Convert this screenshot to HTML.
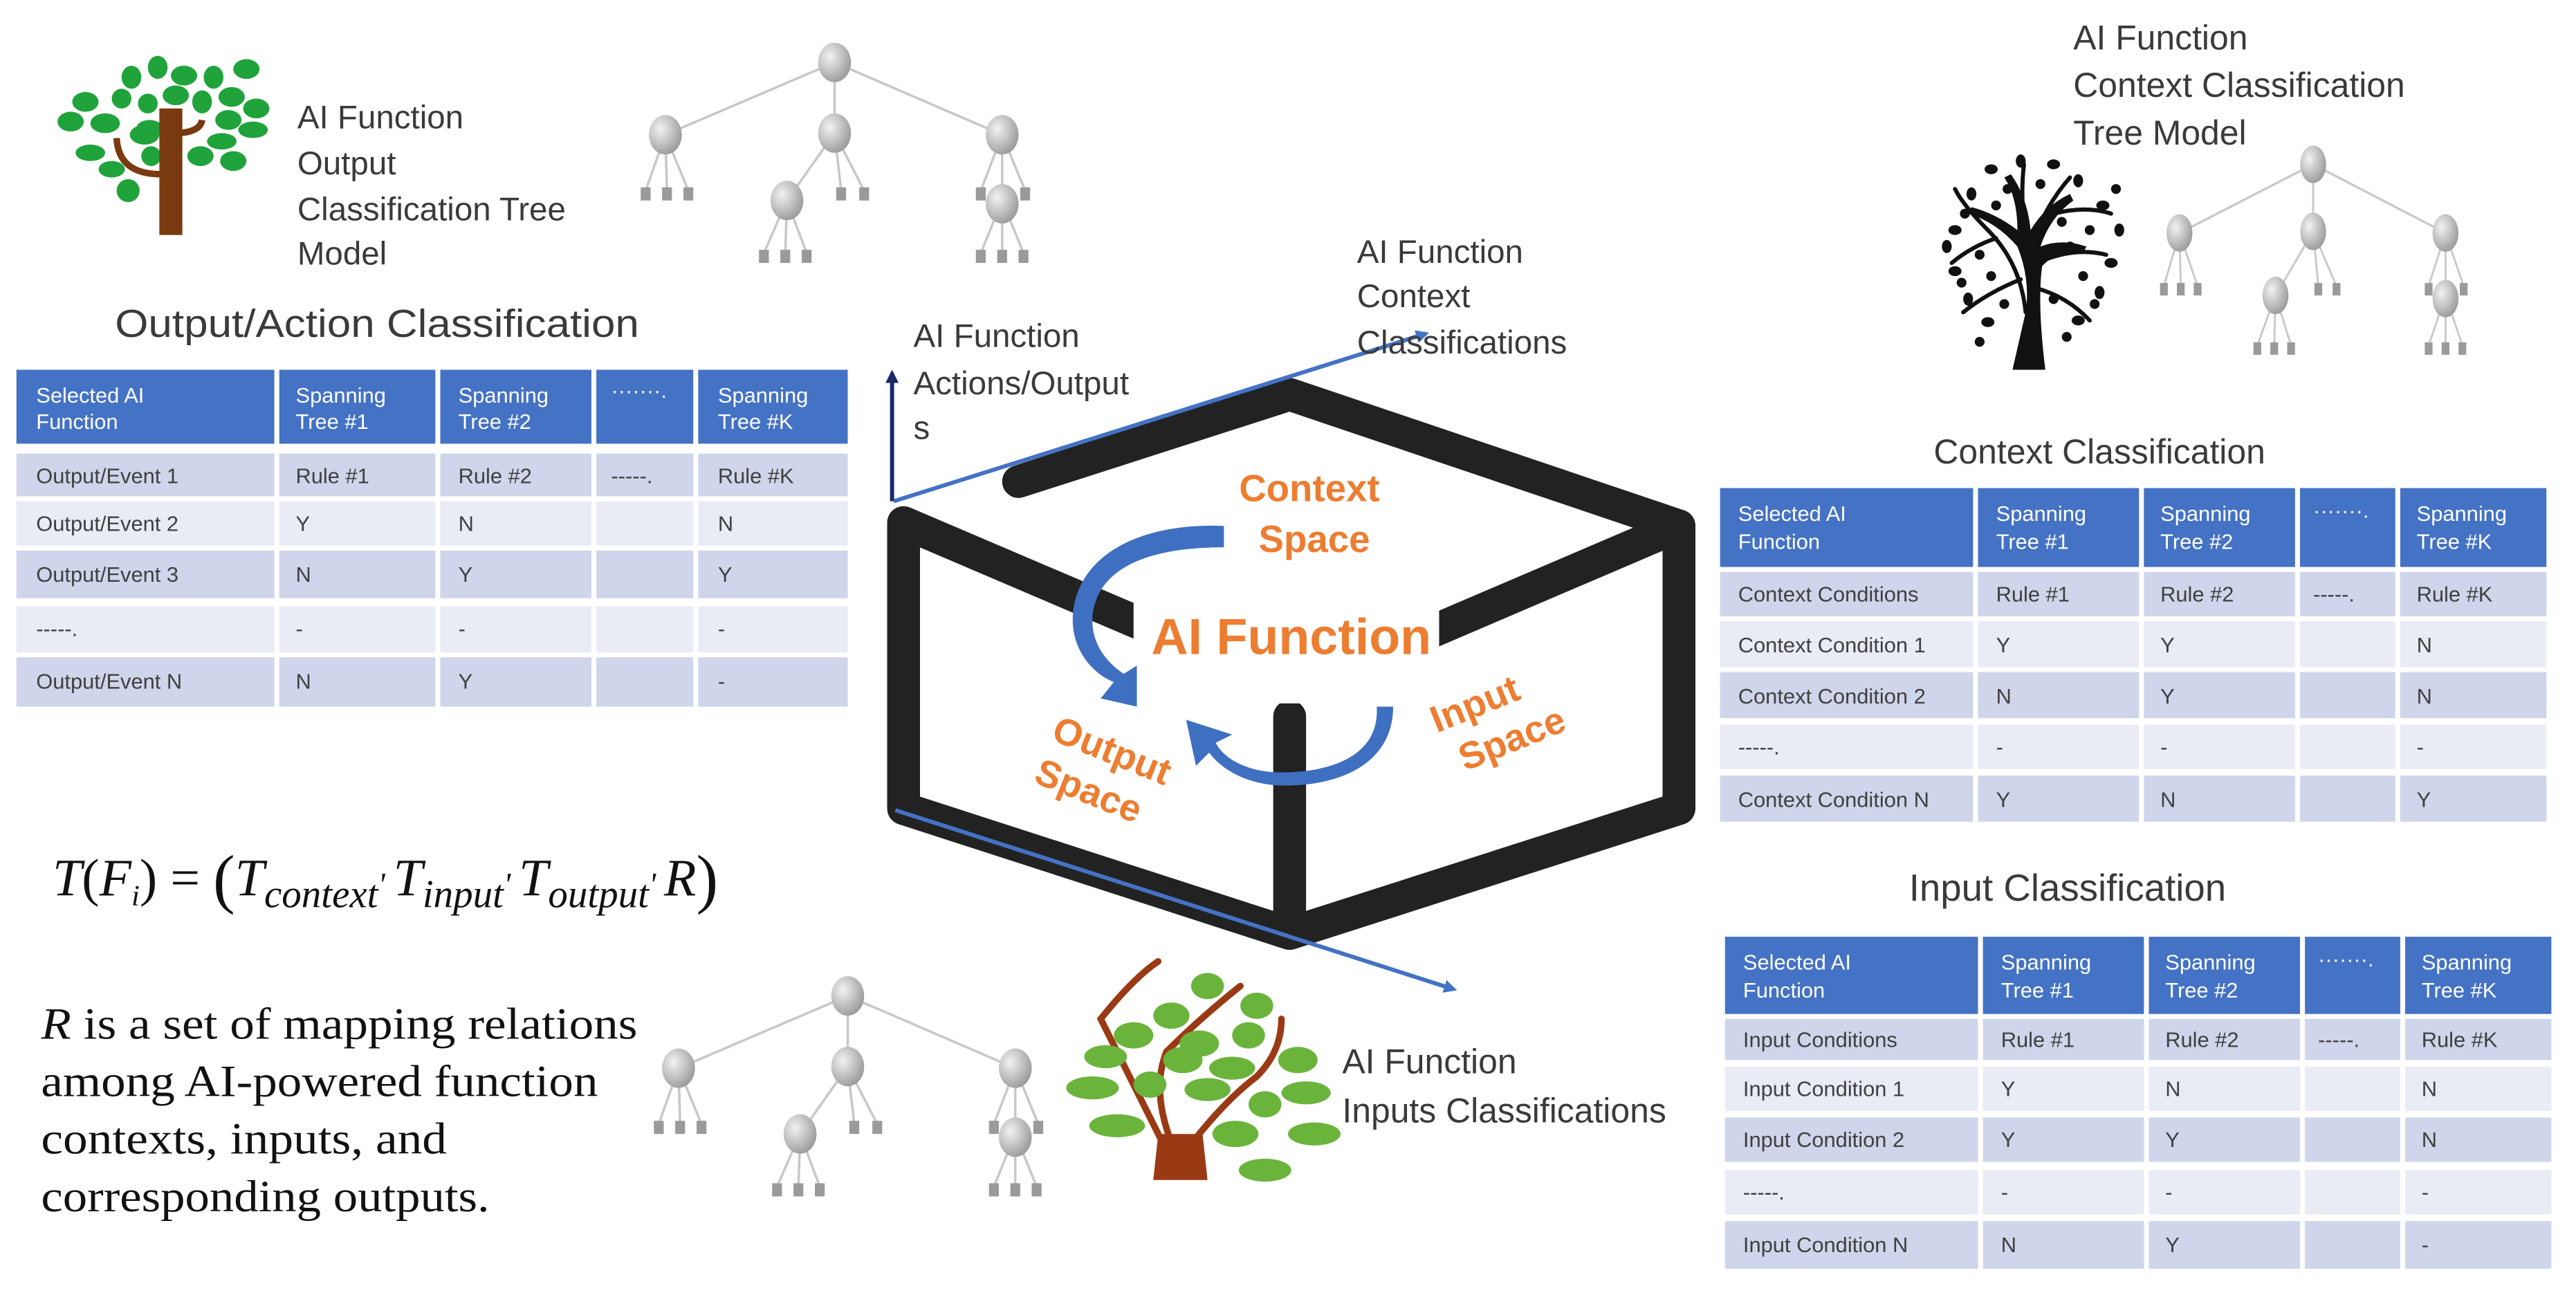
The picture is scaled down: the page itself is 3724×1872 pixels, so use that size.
<!DOCTYPE html>
<html><head><meta charset="utf-8"><style>
html,body{margin:0;padding:0;background:#fff;width:3724px;height:1872px;overflow:hidden}
svg{display:block}
.s{font-family:"Liberation Sans",sans-serif;fill:#3a3a3a}
.t{font-family:"Liberation Sans",sans-serif;font-size:13px;fill:#404040}
.h{font-family:"Liberation Sans",sans-serif;font-size:13px;fill:#fff}
.o{font-family:"Liberation Sans",sans-serif;font-weight:bold;fill:#ED7D31}
.m{font-family:"Liberation Serif",serif;fill:#111}
</style></head><body>
<svg width="3724" height="1872" viewBox="0 0 1568 788" preserveAspectRatio="none">
<defs>
<radialGradient id="g" cx="0.35" cy="0.35" r="0.7"><stop offset="0" stop-color="#f2f2f2"/><stop offset="1" stop-color="#9a9a9a"/></radialGradient>
<marker id="ab" markerWidth="8" markerHeight="8" refX="6" refY="4" orient="auto" markerUnits="userSpaceOnUse"><path d="M0,0 L8,4 L0,8 z" fill="#4472C4"/></marker>
<marker id="an" markerWidth="8" markerHeight="8" refX="6" refY="4" orient="auto" markerUnits="userSpaceOnUse"><path d="M0,0 L8,4 L0,8 z" fill="#1a2a6a"/></marker>
<g id="tree">
<g stroke="#c8c8c8" stroke-width="1.5" fill="none">
<line x1="0" y1="0" x2="-103" y2="44"/><line x1="0" y1="0" x2="0" y2="43"/><line x1="0" y1="0" x2="102" y2="44"/>
<line x1="-103" y1="44" x2="-115" y2="78"/><line x1="-103" y1="44" x2="-102" y2="78"/><line x1="-103" y1="44" x2="-89" y2="78"/>
<line x1="0" y1="43" x2="-29" y2="84"/><line x1="0" y1="43" x2="4" y2="78"/><line x1="0" y1="43" x2="18" y2="78"/>
<line x1="-29" y1="84" x2="-43" y2="116"/><line x1="-29" y1="84" x2="-30" y2="116"/><line x1="-29" y1="84" x2="-17" y2="116"/>
<line x1="102" y1="44" x2="89" y2="78"/><line x1="102" y1="44" x2="102" y2="84"/><line x1="102" y1="44" x2="116" y2="78"/>
<line x1="102" y1="84" x2="89" y2="116"/><line x1="102" y1="84" x2="102" y2="116"/><line x1="102" y1="84" x2="115" y2="116"/>
</g>
<g fill="url(#g)">
<ellipse cx="0" cy="0" rx="10" ry="12"/><ellipse cx="-103" cy="44" rx="10" ry="12"/><ellipse cx="0" cy="43" rx="10" ry="12"/><ellipse cx="102" cy="44" rx="10" ry="12"/>
<ellipse cx="-29" cy="84" rx="10" ry="12"/><ellipse cx="102" cy="86" rx="10" ry="12"/>
</g>
<g fill="#9a9a9a">
<rect x="-118" y="76" width="6" height="8"/><rect x="-105" y="76" width="6" height="8"/><rect x="-92" y="76" width="6" height="8"/>
<rect x="1" y="76" width="6" height="8"/><rect x="15" y="76" width="6" height="8"/>
<rect x="-46" y="114" width="6" height="8"/><rect x="-33" y="114" width="6" height="8"/><rect x="-20" y="114" width="6" height="8"/>
<rect x="86" y="76" width="6" height="8"/><rect x="113" y="76" width="6" height="8"/>
<rect x="86" y="114" width="6" height="8"/><rect x="99" y="114" width="6" height="8"/><rect x="112" y="114" width="6" height="8"/>
</g>
</g>
</defs>

<!-- green tree top-left -->
<g fill="#1fa33a">
<ellipse cx="64" cy="75" rx="9" ry="6"/><ellipse cx="88" cy="82" rx="9" ry="6"/><ellipse cx="55" cy="93" rx="9" ry="5"/><ellipse cx="68" cy="103" rx="8" ry="5"/><ellipse cx="78" cy="116" rx="7" ry="7"/>
<ellipse cx="52" cy="62" rx="8" ry="6"/><ellipse cx="74" cy="60" rx="6" ry="6"/><ellipse cx="90" cy="63" rx="6" ry="6"/><ellipse cx="91" cy="78" rx="8" ry="5"/>
<ellipse cx="80" cy="47" rx="6" ry="7"/><ellipse cx="96" cy="41" rx="6" ry="7"/><ellipse cx="112" cy="46" rx="8" ry="6"/><ellipse cx="130" cy="47" rx="6" ry="7"/><ellipse cx="150" cy="42" rx="8" ry="6"/>
<ellipse cx="107" cy="58" rx="8" ry="6"/><ellipse cx="123" cy="62" rx="6" ry="7"/><ellipse cx="141" cy="59" rx="8" ry="6"/><ellipse cx="156" cy="66" rx="8" ry="6"/>
<ellipse cx="139" cy="73" rx="8" ry="6"/><ellipse cx="154" cy="79" rx="9" ry="5"/><ellipse cx="135" cy="86" rx="9" ry="5"/><ellipse cx="122" cy="95" rx="8" ry="6"/><ellipse cx="142" cy="98" rx="8" ry="6"/>
<ellipse cx="92" cy="95" rx="6" ry="6"/><ellipse cx="43" cy="74" rx="8" ry="6"/>
</g>
<g fill="none" stroke="#7a3a10" stroke-width="4"><path d="M71,84 Q72,106 98,106"/><path d="M109,81 Q122,80 123,73"/></g>
<rect x="97" y="66" width="14" height="77" fill="#7a3a10"/>

<text class="s" font-size="20"><tspan x="181" y="78">AI Function</tspan><tspan x="181" y="106">Output</tspan><tspan x="181" y="134">Classification Tree</tspan><tspan x="181" y="161">Model</tspan></text>
<use href="#tree" x="508" y="38"/>

<text class="s" font-size="24" x="70" y="205" textLength="319" lengthAdjust="spacingAndGlyphs">Output/Action Classification</text>
<!-- table 1 -->
<g>
<rect x="10" y="225" width="157" height="45" fill="#4472C4"/><rect x="170" y="225" width="95" height="45" fill="#4472C4"/><rect x="268" y="225" width="92" height="45" fill="#4472C4"/><rect x="363" y="225" width="59" height="45" fill="#4472C4"/><rect x="425" y="225" width="91" height="45" fill="#4472C4"/>
<text class="h"><tspan x="22" y="245">Selected AI</tspan><tspan x="22" y="261">Function</tspan><tspan x="180" y="245">Spanning</tspan><tspan x="180" y="261">Tree #1</tspan><tspan x="279" y="245">Spanning</tspan><tspan x="279" y="261">Tree #2</tspan><tspan x="372" y="242">·······.</tspan><tspan x="437" y="245">Spanning</tspan><tspan x="437" y="261">Tree #K</tspan></text>
<g fill="#CFD5EA"><rect x="10" y="276" width="157" height="26"/><rect x="170" y="276" width="95" height="26"/><rect x="268" y="276" width="92" height="26"/><rect x="363" y="276" width="59" height="26"/><rect x="425" y="276" width="91" height="26"/></g>
<g fill="#E9EBF5"><rect x="10" y="305" width="157" height="27"/><rect x="170" y="305" width="95" height="27"/><rect x="268" y="305" width="92" height="27"/><rect x="363" y="305" width="59" height="27"/><rect x="425" y="305" width="91" height="27"/></g>
<g fill="#CFD5EA"><rect x="10" y="335" width="157" height="29"/><rect x="170" y="335" width="95" height="29"/><rect x="268" y="335" width="92" height="29"/><rect x="363" y="335" width="59" height="29"/><rect x="425" y="335" width="91" height="29"/></g>
<g fill="#E9EBF5"><rect x="10" y="369" width="157" height="28"/><rect x="170" y="369" width="95" height="28"/><rect x="268" y="369" width="92" height="28"/><rect x="363" y="369" width="59" height="28"/><rect x="425" y="369" width="91" height="28"/></g>
<g fill="#CFD5EA"><rect x="10" y="400" width="157" height="30"/><rect x="170" y="400" width="95" height="30"/><rect x="268" y="400" width="92" height="30"/><rect x="363" y="400" width="59" height="30"/><rect x="425" y="400" width="91" height="30"/></g>
<text class="t"><tspan x="22" y="294">Output/Event 1</tspan><tspan x="180" y="294">Rule #1</tspan><tspan x="279" y="294">Rule #2</tspan><tspan x="372" y="294">-----.</tspan><tspan x="437" y="294">Rule #K</tspan>
<tspan x="22" y="323">Output/Event 2</tspan><tspan x="180" y="323">Y</tspan><tspan x="279" y="323">N</tspan><tspan x="437" y="323">N</tspan>
<tspan x="22" y="354">Output/Event 3</tspan><tspan x="180" y="354">N</tspan><tspan x="279" y="354">Y</tspan><tspan x="437" y="354">Y</tspan>
<tspan x="22" y="387">-----.</tspan><tspan x="180" y="387">-</tspan><tspan x="279" y="387">-</tspan><tspan x="437" y="387">-</tspan>
<tspan x="22" y="419">Output/Event N</tspan><tspan x="180" y="419">N</tspan><tspan x="279" y="419">Y</tspan><tspan x="437" y="419">-</tspan></text>
</g>

<!-- formula -->
<text class="m" font-size="32" font-style="italic" x="32" y="545">T<tspan font-style="normal">(</tspan>F<tspan font-size="18" dy="6">i</tspan><tspan font-style="normal" dy="-6">) = </tspan><tspan font-style="normal" font-size="40" dy="3">(</tspan><tspan dy="-3">T</tspan><tspan font-size="24" dy="7">context</tspan><tspan dy="-7" font-size="20">' </tspan>T<tspan font-size="24" dy="7">input</tspan><tspan dy="-7" font-size="20">' </tspan>T<tspan font-size="24" dy="7">output</tspan><tspan dy="-7" font-size="20">' </tspan>R<tspan font-style="normal" font-size="40" dy="3">)</tspan></text>
<text class="m" font-size="27">
<tspan x="25" y="632" textLength="363" lengthAdjust="spacingAndGlyphs"><tspan font-style="italic">R</tspan> is a set of mapping relations</tspan>
</text>
<text class="m" font-size="27" x="25" y="667" textLength="339" lengthAdjust="spacingAndGlyphs">among AI-powered function</text>
<text class="m" font-size="27" x="25" y="702" textLength="247" lengthAdjust="spacingAndGlyphs">contexts, inputs, and</text>
<text class="m" font-size="27" x="25" y="737" textLength="273" lengthAdjust="spacingAndGlyphs">corresponding outputs.</text>

<use href="#tree" x="516" y="606"/>
<!-- brown-green tree bottom -->
<g fill="none" stroke="#9a3a14" stroke-width="4" stroke-linecap="round">
<path d="M710,700 Q690,660 670,620 Q690,595 705,585"/><path d="M715,700 Q700,665 710,640 Q730,620 755,600"/><path d="M722,700 Q745,670 765,655 Q780,640 780,620"/>
</g>
<path d="M705,690 L732,690 L735,718 L702,718 z" fill="#9a3a14"/>
<g fill="#6ab43c">
<ellipse cx="713" cy="618" rx="11" ry="8"/><ellipse cx="690" cy="630" rx="12" ry="8"/><ellipse cx="730" cy="635" rx="12" ry="8"/><ellipse cx="673" cy="643" rx="13" ry="7"/><ellipse cx="750" cy="650" rx="14" ry="7"/>
<ellipse cx="665" cy="662" rx="16" ry="7"/><ellipse cx="700" cy="660" rx="10" ry="8"/><ellipse cx="735" cy="663" rx="14" ry="7"/><ellipse cx="680" cy="685" rx="17" ry="7"/><ellipse cx="720" cy="645" rx="12" ry="8"/>
<ellipse cx="760" cy="630" rx="10" ry="8"/><ellipse cx="770" cy="672" rx="10" ry="8"/><ellipse cx="790" cy="645" rx="12" ry="8"/><ellipse cx="795" cy="665" rx="15" ry="7"/><ellipse cx="800" cy="690" rx="16" ry="7"/>
<ellipse cx="752" cy="690" rx="14" ry="8"/><ellipse cx="770" cy="712" rx="16" ry="7"/><ellipse cx="735" cy="600" rx="10" ry="8"/><ellipse cx="765" cy="612" rx="10" ry="8"/>
</g>
<text class="s" font-size="21"><tspan x="817" y="653">AI Function</tspan><tspan x="817" y="683">Inputs Classifications</tspan></text>

<!-- cube -->
<g fill="none" stroke="#222" stroke-width="20" stroke-linejoin="round" stroke-linecap="round">
<path d="M620,293 L785,240 L1022,320 L1022,492 L785,568 L550,492 L550,318 L700,382"/>
<path d="M1022,320 L870,385"/>
<path d="M785,436 L785,565"/>
</g>
<rect x="690" y="358" width="186" height="70" fill="#fff"/>
<!-- axes -->
<line x1="544" y1="305" x2="868" y2="203" stroke="#4472C4" stroke-width="2.5" marker-end="url(#ab)"/>
<line x1="543" y1="305" x2="543" y2="227" stroke="#1a2a6a" stroke-width="2.5" marker-end="url(#an)"/>
<line x1="545" y1="493" x2="885" y2="602" stroke="#4472C4" stroke-width="2.5" marker-end="url(#ab)"/>
<text class="s" font-size="20"><tspan x="556" y="211">AI Function</tspan><tspan x="556" y="240">Actions/Output</tspan><tspan x="556" y="267">s</tspan></text>
<text class="s" font-size="20"><tspan x="826" y="160">AI Function</tspan><tspan x="826" y="187">Context</tspan><tspan x="826" y="215">Classifications</tspan></text>
<!-- blue curved arrows -->
<path d="M745,320 C690,318 655,340 653,375 C652,395 665,410 678,415 L670,425 L692,430 L692,405 L684,410 C672,402 664,390 665,375 C668,345 700,333 745,333 z" fill="#3f6fc0"/>
<path d="M838,430 C840,460 810,470 780,470 C760,470 745,462 740,452 L750,447 L722,438 L728,466 L736,458 C745,470 762,478 782,478 C820,478 848,462 848,430 z" fill="#3f6fc0"/>
<text class="o" font-size="23" text-anchor="middle"><tspan x="797" y="305">Context</tspan><tspan x="800" y="336">Space</tspan></text>
<text class="o" font-size="31" text-anchor="middle" x="786" y="398">AI Function</text>
<text class="o" font-size="23" text-anchor="middle" transform="rotate(-22 912 445)"><tspan x="905" y="432">Input</tspan><tspan x="918" y="460">Space</tspan></text>
<text class="o" font-size="23" text-anchor="middle" transform="rotate(22 668 468)"><tspan x="672" y="462">Output</tspan><tspan x="668" y="490">Space</tspan></text>

<!-- right top -->
<text class="s" font-size="21"><tspan x="1262" y="30">AI Function</tspan><tspan x="1262" y="59">Context Classification</tspan><tspan x="1262" y="88">Tree Model</tspan></text>
<!-- black tree -->
<g stroke="#111" stroke-width="2.5" fill="none" stroke-linecap="round">
<path d="M1233,190 Q1230,160 1210,140 Q1195,125 1190,115"/><path d="M1215,145 Q1200,150 1188,160"/><path d="M1236,150 Q1245,125 1260,108"/><path d="M1240,160 Q1262,150 1282,155"/><path d="M1238,175 Q1258,180 1272,195"/><path d="M1230,170 Q1210,178 1195,190"/><path d="M1232,140 Q1230,115 1232,100"/><path d="M1250,130 Q1270,125 1285,130"/>
</g>
<path d="M1225,225 L1233,190 Q1236,170 1228,150 Q1215,135 1198,130 L1200,126 Q1215,130 1228,140 Q1228,120 1220,108 L1224,106 Q1234,120 1236,140 Q1245,125 1260,118 L1262,122 Q1248,132 1242,150 Q1255,145 1270,150 L1268,154 Q1252,152 1243,162 Q1240,185 1245,225 z" fill="#111"/>
<g fill="#111">
<ellipse cx="1190" cy="140" rx="4" ry="3"/><ellipse cx="1200" cy="118" rx="3" ry="4"/><ellipse cx="1212" cy="103" rx="4" ry="3"/><ellipse cx="1230" cy="98" rx="3" ry="4"/><ellipse cx="1250" cy="100" rx="4" ry="3"/><ellipse cx="1265" cy="110" rx="3" ry="4"/><ellipse cx="1280" cy="125" rx="4" ry="3"/><ellipse cx="1290" cy="140" rx="3" ry="4"/><ellipse cx="1285" cy="160" rx="4" ry="3"/><ellipse cx="1278" cy="178" rx="3" ry="4"/><ellipse cx="1265" cy="195" rx="4" ry="3"/><ellipse cx="1190" cy="165" rx="4" ry="3"/><ellipse cx="1198" cy="182" rx="3" ry="4"/><ellipse cx="1210" cy="196" rx="4" ry="3"/><ellipse cx="1215" cy="125" rx="3" ry="3"/><ellipse cx="1255" cy="135" rx="3" ry="3"/><ellipse cx="1268" cy="168" rx="3" ry="3"/><ellipse cx="1205" cy="155" rx="3" ry="3"/><ellipse cx="1250" cy="182" rx="3" ry="3"/><ellipse cx="1185" cy="150" rx="3" ry="4"/>
<ellipse cx="1196" cy="130" rx="3" ry="3"/><ellipse cx="1222" cy="115" rx="3" ry="3"/><ellipse cx="1242" cy="112" rx="3" ry="3"/><ellipse cx="1272" cy="140" rx="3" ry="3"/><ellipse cx="1260" cy="150" rx="3" ry="3"/><ellipse cx="1212" cy="168" rx="3" ry="3"/><ellipse cx="1194" cy="172" rx="3" ry="3"/><ellipse cx="1275" cy="185" rx="3" ry="3"/><ellipse cx="1220" cy="185" rx="3" ry="3"/><ellipse cx="1258" cy="205" rx="3" ry="3"/><ellipse cx="1205" cy="208" rx="3" ry="3"/><ellipse cx="1288" cy="115" rx="3" ry="3"/>
</g>
<use href="#tree" transform="translate(1408,100) scale(0.79,0.95)"/>

<text class="s" font-size="21" x="1177" y="282">Context Classification</text>
<!-- table 2 -->
<g>
<g fill="#4472C4"><rect x="1047" y="297" width="154" height="48"/><rect x="1204" y="297" width="98" height="48"/><rect x="1305" y="297" width="92" height="48"/><rect x="1400" y="297" width="58" height="48"/><rect x="1461" y="297" width="89" height="48"/></g>
<text class="h"><tspan x="1058" y="317">Selected AI</tspan><tspan x="1058" y="334">Function</tspan><tspan x="1215" y="317">Spanning</tspan><tspan x="1215" y="334">Tree #1</tspan><tspan x="1315" y="317">Spanning</tspan><tspan x="1315" y="334">Tree #2</tspan><tspan x="1408" y="315">·······.</tspan><tspan x="1471" y="317">Spanning</tspan><tspan x="1471" y="334">Tree #K</tspan></text>
<g fill="#CFD5EA"><rect x="1047" y="348" width="154" height="27"/><rect x="1204" y="348" width="98" height="27"/><rect x="1305" y="348" width="92" height="27"/><rect x="1400" y="348" width="58" height="27"/><rect x="1461" y="348" width="89" height="27"/></g>
<g fill="#E9EBF5"><rect x="1047" y="378" width="154" height="28"/><rect x="1204" y="378" width="98" height="28"/><rect x="1305" y="378" width="92" height="28"/><rect x="1400" y="378" width="58" height="28"/><rect x="1461" y="378" width="89" height="28"/></g>
<g fill="#CFD5EA"><rect x="1047" y="409" width="154" height="28"/><rect x="1204" y="409" width="98" height="28"/><rect x="1305" y="409" width="92" height="28"/><rect x="1400" y="409" width="58" height="28"/><rect x="1461" y="409" width="89" height="28"/></g>
<g fill="#E9EBF5"><rect x="1047" y="441" width="154" height="27"/><rect x="1204" y="441" width="98" height="27"/><rect x="1305" y="441" width="92" height="27"/><rect x="1400" y="441" width="58" height="27"/><rect x="1461" y="441" width="89" height="27"/></g>
<g fill="#CFD5EA"><rect x="1047" y="472" width="154" height="28"/><rect x="1204" y="472" width="98" height="28"/><rect x="1305" y="472" width="92" height="28"/><rect x="1400" y="472" width="58" height="28"/><rect x="1461" y="472" width="89" height="28"/></g>
<text class="t"><tspan x="1058" y="366">Context Conditions</tspan><tspan x="1215" y="366">Rule #1</tspan><tspan x="1315" y="366">Rule #2</tspan><tspan x="1408" y="366">-----.</tspan><tspan x="1471" y="366">Rule #K</tspan>
<tspan x="1058" y="397">Context Condition 1</tspan><tspan x="1215" y="397">Y</tspan><tspan x="1315" y="397">Y</tspan><tspan x="1471" y="397">N</tspan>
<tspan x="1058" y="428">Context Condition 2</tspan><tspan x="1215" y="428">N</tspan><tspan x="1315" y="428">Y</tspan><tspan x="1471" y="428">N</tspan>
<tspan x="1058" y="459">-----.</tspan><tspan x="1215" y="459">-</tspan><tspan x="1315" y="459">-</tspan><tspan x="1471" y="459">-</tspan>
<tspan x="1058" y="491">Context Condition N</tspan><tspan x="1215" y="491">Y</tspan><tspan x="1315" y="491">N</tspan><tspan x="1471" y="491">Y</tspan></text>
</g>

<text class="s" font-size="23" x="1162" y="548">Input Classification</text>
<!-- table 3 -->
<g>
<g fill="#4472C4"><rect x="1050" y="570" width="154" height="47"/><rect x="1207" y="570" width="98" height="47"/><rect x="1308" y="570" width="92" height="47"/><rect x="1403" y="570" width="58" height="47"/><rect x="1464" y="570" width="89" height="47"/></g>
<text class="h"><tspan x="1061" y="590">Selected AI</tspan><tspan x="1061" y="607">Function</tspan><tspan x="1218" y="590">Spanning</tspan><tspan x="1218" y="607">Tree #1</tspan><tspan x="1318" y="590">Spanning</tspan><tspan x="1318" y="607">Tree #2</tspan><tspan x="1411" y="588">·······.</tspan><tspan x="1474" y="590">Spanning</tspan><tspan x="1474" y="607">Tree #K</tspan></text>
<g fill="#CFD5EA"><rect x="1050" y="620" width="154" height="25"/><rect x="1207" y="620" width="98" height="25"/><rect x="1308" y="620" width="92" height="25"/><rect x="1403" y="620" width="58" height="25"/><rect x="1464" y="620" width="89" height="25"/></g>
<g fill="#E9EBF5"><rect x="1050" y="649" width="154" height="27"/><rect x="1207" y="649" width="98" height="27"/><rect x="1308" y="649" width="92" height="27"/><rect x="1403" y="649" width="58" height="27"/><rect x="1464" y="649" width="89" height="27"/></g>
<g fill="#CFD5EA"><rect x="1050" y="680" width="154" height="27"/><rect x="1207" y="680" width="98" height="27"/><rect x="1308" y="680" width="92" height="27"/><rect x="1403" y="680" width="58" height="27"/><rect x="1464" y="680" width="89" height="27"/></g>
<g fill="#E9EBF5"><rect x="1050" y="712" width="154" height="27"/><rect x="1207" y="712" width="98" height="27"/><rect x="1308" y="712" width="92" height="27"/><rect x="1403" y="712" width="58" height="27"/><rect x="1464" y="712" width="89" height="27"/></g>
<g fill="#CFD5EA"><rect x="1050" y="743" width="154" height="29"/><rect x="1207" y="743" width="98" height="29"/><rect x="1308" y="743" width="92" height="29"/><rect x="1403" y="743" width="58" height="29"/><rect x="1464" y="743" width="89" height="29"/></g>
<text class="t"><tspan x="1061" y="637">Input Conditions</tspan><tspan x="1218" y="637">Rule #1</tspan><tspan x="1318" y="637">Rule #2</tspan><tspan x="1411" y="637">-----.</tspan><tspan x="1474" y="637">Rule #K</tspan>
<tspan x="1061" y="667">Input Condition 1</tspan><tspan x="1218" y="667">Y</tspan><tspan x="1318" y="667">N</tspan><tspan x="1474" y="667">N</tspan>
<tspan x="1061" y="698">Input Condition 2</tspan><tspan x="1218" y="698">Y</tspan><tspan x="1318" y="698">Y</tspan><tspan x="1474" y="698">N</tspan>
<tspan x="1061" y="730">-----.</tspan><tspan x="1218" y="730">-</tspan><tspan x="1318" y="730">-</tspan><tspan x="1474" y="730">-</tspan>
<tspan x="1061" y="762">Input Condition N</tspan><tspan x="1218" y="762">N</tspan><tspan x="1318" y="762">Y</tspan><tspan x="1474" y="762">-</tspan></text>
</g>
</svg>
</body></html>
